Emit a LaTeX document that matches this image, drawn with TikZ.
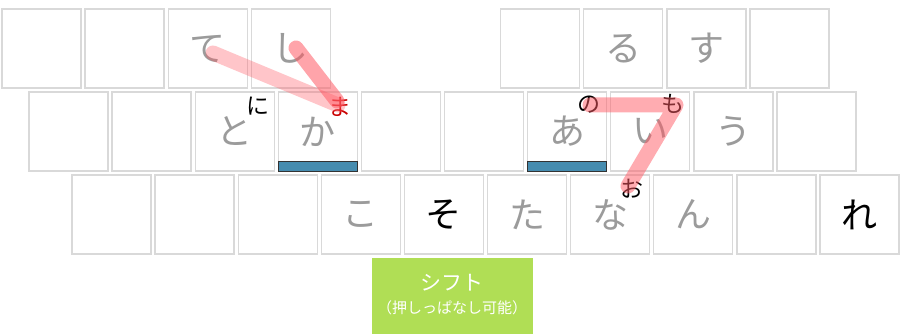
\documentclass[tikz,border=0pt]{standalone}
\usepackage{fontspec}
\newfontfamily\jp{Noto Sans CJK JP}
\definecolor{keyline}{RGB}{217,217,217}
\definecolor{keychar}{RGB}{155,155,155}
\definecolor{barblue}{RGB}{70,140,175}
\definecolor{shiftgreen}{RGB}{176,222,85}
\definecolor{strokepink}{RGB}{255,90,100}
\definecolor{mared}{RGB}{200,0,0}
\newcommand{\kc}[1]{\raisebox{-7pt}{#1}}
\tikzset{
  keybox/.style={draw=keyline, line width=1.4pt, minimum width=79pt, minimum height=79pt, inner sep=0pt, font=\jp\fontsize{36}{36}\selectfont, text=keychar},
  darkchar/.style={text=black},
  smallchar/.style={font=\jp\fontsize{23}{23}\selectfont, inner sep=0pt, text=black},
  bar/.style={draw=black!80, line width=0.8pt, fill=barblue, minimum width=79pt, minimum height=10pt, inner sep=0pt, anchor=south},
  pinkstroke/.style={draw=strokepink, line width=15pt, line cap=round, line join=round},
}
\begin{document}
\begin{tikzpicture}[x=1pt,y=-1pt]
\useasboundingbox (0,0) rectangle (902,334);
% top row
\foreach \i/\c in {0/,1/,2/て,3/し,6/,7/る,8/す,9/}{
  \node[keybox] (t\i) at ({41.5+83.1*\i},48.5) {\kc{\c}};
}
% middle row
\foreach \i/\c in {0/,1/,2/と,3/か,4/,5/,6/あ,7/い,8/う,9/}{
  \node[keybox] (m\i) at ({68.5+83.1*\i},131.5) {\kc{\c}};
}
% bottom row
\foreach \i/\c in {0/,1/,2/,3/こ,5/た,6/な,7/ん,8/}{
  \node[keybox] (b\i) at ({111.5+83.1*\i},214.5) {\kc{\c}};
}
\node[keybox,darkchar] (b4) at ({111.5+83.1*4},214.5) {\kc{そ}};
\node[keybox,darkchar] (b9) at ({111.5+83.1*9},214.5) {\kc{れ}};
% blue bars
\node[bar] (bar1) at (m3.south) {};
\node[bar] (bar2) at (m6.south) {};
% small characters
\node[smallchar] (ni) at (258,106) {に};
\node[smallchar, text=mared] (ma) at (340,107) {ま};
\node[smallchar] (no) at (589,105) {の};
\node[smallchar] (mo) at (673,104) {も};
\node[smallchar] (o) at (632,189) {お};
% stroke end points
\coordinate (te0) at (213,53);
\coordinate (shi0) at (296,48);
\coordinate (ma1) at (338,105);
\coordinate (ma2) at (337,101);
\coordinate (no0) at (590,105);
\coordinate (mo0) at (676,105);
\coordinate (o0) at (628,186);
\draw[pinkstroke, draw opacity=0.35] (te0) -- (ma1);
\draw[pinkstroke, draw opacity=0.55] (shi0) -- (ma2);
\draw[pinkstroke, draw opacity=0.5] (no0) -- (mo0) -- (o0);
% shift key
\node[fill=shiftgreen, minimum width=161pt, minimum height=78pt, inner sep=0pt, anchor=north west] (shift) at (372,258) {};
\node[text=white, font=\jp\fontsize{21}{21}\selectfont, inner sep=0pt] (shiftlabel) at (452,283) {シフト};
\node[text=white, font=\jp\fontsize{15}{15}\selectfont, inner sep=0pt] (shiftnote) at (452,308) {（押しっぱなし可能）};
\end{tikzpicture}
\end{document}
